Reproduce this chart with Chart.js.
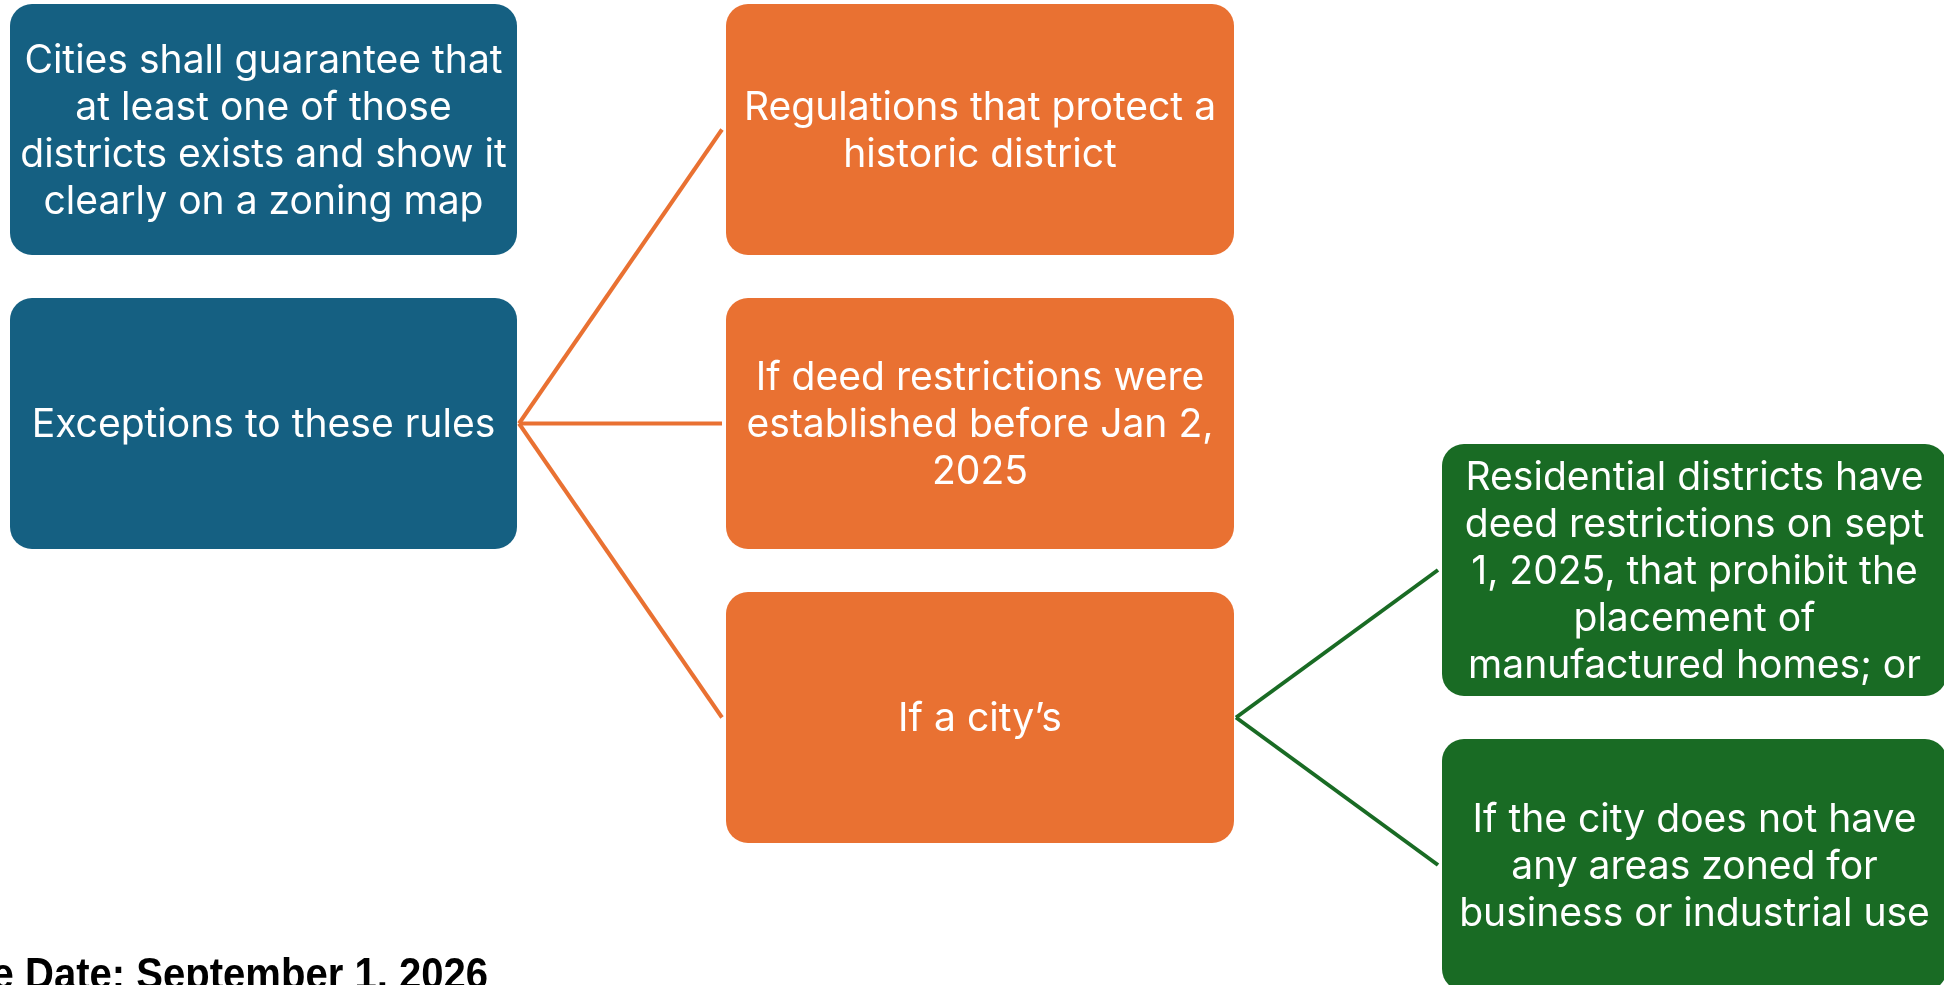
<!DOCTYPE html>
<html>
<head>
<meta charset="utf-8">
<script src="https://cdn.jsdelivr.net/npm/chart.js@4/dist/chart.umd.min.js"></script>
<style>
  html, body { margin: 0; padding: 0; background: #ffffff; overflow: hidden; }
  #wrap { width: 1944px; height: 985px; }
</style>
</head>
<body>
<div id="wrap"><canvas id="myChart" width="1944" height="985"></canvas></div>
<script>
// boxes of the diagram, in page units (x to the right, y downward)
const boxText = [
    ["Cities shall guarantee that", "at least one of those", "districts exists and show it", "clearly on a zoning map"],
    ["Exceptions to these rules"],
    ["Regulations that protect a", "historic district"],
    ["If deed restrictions were", "established before Jan 2,", "2025"],
    ["If a city\u2019s"],
    ["Residential districts have", "deed restrictions on sept", "1, 2025, that prohibit the", "placement of", "manufactured homes; or"],
    ["If the city does not have", "any areas zoned for", "business or industrial use"]
];
const boxLeft = [10, 10, 726, 726, 726, 1442, 1442];
const boxTop = [4, 298, 4, 298, 592, 444, 739];
const boxWidth = [507, 507, 508, 508, 508, 505, 505];
const boxHeight = [251, 251, 251, 251, 251, 252, 252];
const boxColour = ['#156082', '#156082', '#E97132', '#E97132', '#E97132', '#196B24', '#196B24'];

// connectors: parent box -> child box
const linkFrom = [1, 1, 1, 4, 4];
const linkTo = [2, 3, 4, 5, 6];
const linkColour = ['#E97132', '#E97132', '#E97132', '#196B24', '#196B24'];

const footText = "Effective Date: September 1, 2026";

const datasets = linkFrom.map((p, i) => {
    const c = linkTo[i];
    return {
        data: [
            { x: boxLeft[p] + boxWidth[p] + 2, y: boxTop[p] + boxHeight[p] / 2 },
            { x: boxLeft[c] - 4, y: boxTop[c] + boxHeight[c] / 2 }
        ],
        showLine: true,
        borderColor: linkColour[i],
        borderWidth: 4,
        pointRadius: 0,
        fill: false
    };
});

const boxPlugin = {
    id: 'diagramBoxes',
    afterDatasetsDraw(chart) {
        const ctx = chart.ctx;
        const xs = chart.scales.x, ys = chart.scales.y;
        const family = 'Inter, "Open Sans", "Liberation Sans", sans-serif';

        // size the font so the widest green line is as wide as in the picture
        ctx.save();
        ctx.font = '100px ' + family;
        const size = 100 * 458 / ctx.measureText("Residential districts have").width;
        ctx.restore();

        boxText.forEach((lines, i) => {
            const x0 = xs.getPixelForValue(boxLeft[i]);
            const x1 = xs.getPixelForValue(boxLeft[i] + boxWidth[i]);
            const y0 = ys.getPixelForValue(boxTop[i]);
            const y1 = ys.getPixelForValue(boxTop[i] + boxHeight[i]);
            ctx.save();
            ctx.fillStyle = boxColour[i];
            ctx.beginPath();
            ctx.roundRect(x0, y0, x1 - x0, y1 - y0, 22);
            ctx.fill();

            ctx.fillStyle = '#ffffff';
            ctx.font = size + 'px ' + family;
            ctx.textAlign = 'center';
            ctx.textBaseline = 'middle';
            const lh = 47;
            const cx = (x0 + x1) / 2, cy = (y0 + y1) / 2 + 2;
            lines.forEach((t, j) => {
                ctx.fillText(t, cx, cy + (j - (lines.length - 1) / 2) * lh);
            });
            ctx.restore();
        });

        // footer, partly cut off by the left and bottom edges like the original
        ctx.save();
        ctx.fillStyle = '#000000';
        ctx.font = 'bold 44px "Liberation Sans", Arial, sans-serif';
        const sx = 463 / ctx.measureText("Date: September 1, 2026").width;
        ctx.translate(xs.getPixelForValue(488), ys.getPixelForValue(989));
        ctx.scale(sx, 1);
        ctx.textAlign = 'right';
        ctx.textBaseline = 'alphabetic';
        ctx.fillText(footText, 0, 0);
        ctx.restore();
    }
};

new Chart(document.getElementById('myChart'), {
    type: 'scatter',
    data: { datasets: datasets },
    options: {
        responsive: false,
        animation: false,
        events: [],
        layout: { padding: 0 },
        plugins: {
            legend: { display: false },
            tooltip: { enabled: false }
        },
        scales: {
            x: { type: 'linear', min: 0, max: 1944, display: false },
            y: { type: 'linear', min: 0, max: 985, reverse: true, display: false }
        }
    },
    plugins: [boxPlugin]
});
</script>
</body>
</html>
